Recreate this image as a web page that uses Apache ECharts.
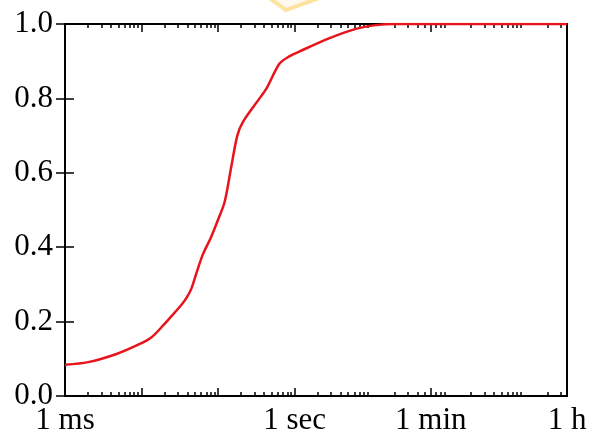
<!DOCTYPE html>
<html>
<head>
<meta charset="utf-8">
<script src="https://cdn.jsdelivr.net/npm/echarts@6/dist/echarts.min.js"></script>
<style>
html,body{margin:0;padding:0;background:#fff;}
#chart{width:591px;height:436px;}
</style>
</head>
<body>
<div id="chart"></div>
<script>
// Data: latency (ms) vs cumulative fraction
var timeMs = [1, 2, 4.7, 9.5, 13.5, 19, 26, 34, 39, 45, 52, 63, 80, 96, 122, 148, 178, 211, 347, 427, 631, 851, 1148, 2850, 6300, 11500, 20000, 3600000];
var cdf    = [0.084, 0.091, 0.113, 0.140, 0.158, 0.189, 0.220, 0.248, 0.265, 0.290, 0.330, 0.380, 0.425, 0.465, 0.523, 0.615, 0.700, 0.737, 0.800, 0.826, 0.893, 0.913, 0.926, 0.962, 0.987, 0.997, 1.0, 1.0];

// Axis ticks and labels (in ms)
var xMinMs = 1;
var xMaxMs = 3600000;
var labelMs = [1, 1000, 60000, 3600000];
var labelText = ['1 ms', '1 sec', '1 min', '1 h'];
var majorTickMs = [10, 100, 1000, 60000];
var minorTickMs = [2, 3, 4, 5, 6, 7, 8, 9,
                   20, 30, 40, 50, 60, 70, 80, 90,
                   200, 300, 400, 500, 600, 700, 800, 900,
                   2000, 3000, 4000, 5000, 6000, 7000, 8000, 9000,
                   20000, 30000, 40000, 50000, 70000, 80000, 90000,
                   200000, 300000, 400000, 500000, 600000, 700000, 800000, 900000,
                   2000000, 3000000];
var yTicks = [0, 0.2, 0.4, 0.6, 0.8, 1.0];

var FONT = 'Liberation Serif';
var lg = function (v) { return Math.log10(v); };
var L0 = lg(xMinMs), L1 = lg(xMaxMs);
var labelLogs = labelMs.map(lg);

function tickAxis(pos, values, len, withLabels) {
  return {
    type: 'value', position: pos, min: L0, max: L1,
    axisLine: { show: false },
    splitLine: { show: false },
    axisTick: { show: true, inside: true, length: len, customValues: values.map(lg),
                lineStyle: { color: '#000', width: 1.5 } },
    axisLabel: withLabels ? {
      show: true, customValues: labelLogs, margin: 9,
      fontFamily: FONT, fontSize: 31, color: '#000',
      formatter: function (v) {
        for (var i = 0; i < labelLogs.length; i++) {
          if (Math.abs(labelLogs[i] - v) < 1e-6) return labelText[i];
        }
        return '';
      }
    } : { show: false }
  };
}

var chart = echarts.init(document.getElementById('chart'), null, { renderer: 'canvas' });
chart.setOption({
  animation: false,
  backgroundColor: '#fff',
  grid: { left: 65, right: 24, top: 24, bottom: 37, show: true, borderColor: '#000', borderWidth: 2, backgroundColor: 'transparent' },
  graphic: [{
    type: 'polygon', silent: true,
    shape: { points: [[268, -3], [286, 10], [322, -3]] },
    style: { fill: '#fffaf0', stroke: '#fde3a0', lineWidth: 4 }
  }],
  xAxis: [
    { type: 'log', logBase: 10, min: xMinMs, max: xMaxMs, position: 'bottom',
      axisLine: { show: false }, axisTick: { show: false }, axisLabel: { show: false }, splitLine: { show: false } },
    tickAxis('bottom', majorTickMs, 8, true),
    tickAxis('bottom', minorTickMs, 4, false),
    tickAxis('top', majorTickMs, 8, false),
    tickAxis('top', minorTickMs, 4, false)
  ],
  yAxis: [
    { type: 'value', position: 'left', min: 0, max: 1, interval: 0.2,
      axisLine: { show: false }, splitLine: { show: false },
      axisTick: { show: true, inside: true, length: 9, customValues: yTicks, lineStyle: { color: '#000', width: 1.5 } },
      axisLabel: { show: true, margin: 12, fontFamily: FONT, fontSize: 31, color: '#000',
                   formatter: function (v) { return v.toFixed(1); } } },
    { type: 'value', position: 'right', min: 0, max: 1, interval: 0.2,
      axisLine: { show: false }, splitLine: { show: false },
      axisTick: { show: true, inside: true, length: 9, lineStyle: { color: '#000', width: 1.5 } },
      axisLabel: { show: false } }
  ],
  series: [{
    type: 'line', xAxisIndex: 0, yAxisIndex: 0,
    data: timeMs.map(function (t, i) { return [t, cdf[i]]; }),
    showSymbol: false, smooth: 0.3,
    lineStyle: { color: '#e8141c', width: 2.5 },
    clip: true
  }]
});
</script>
</body>
</html>
